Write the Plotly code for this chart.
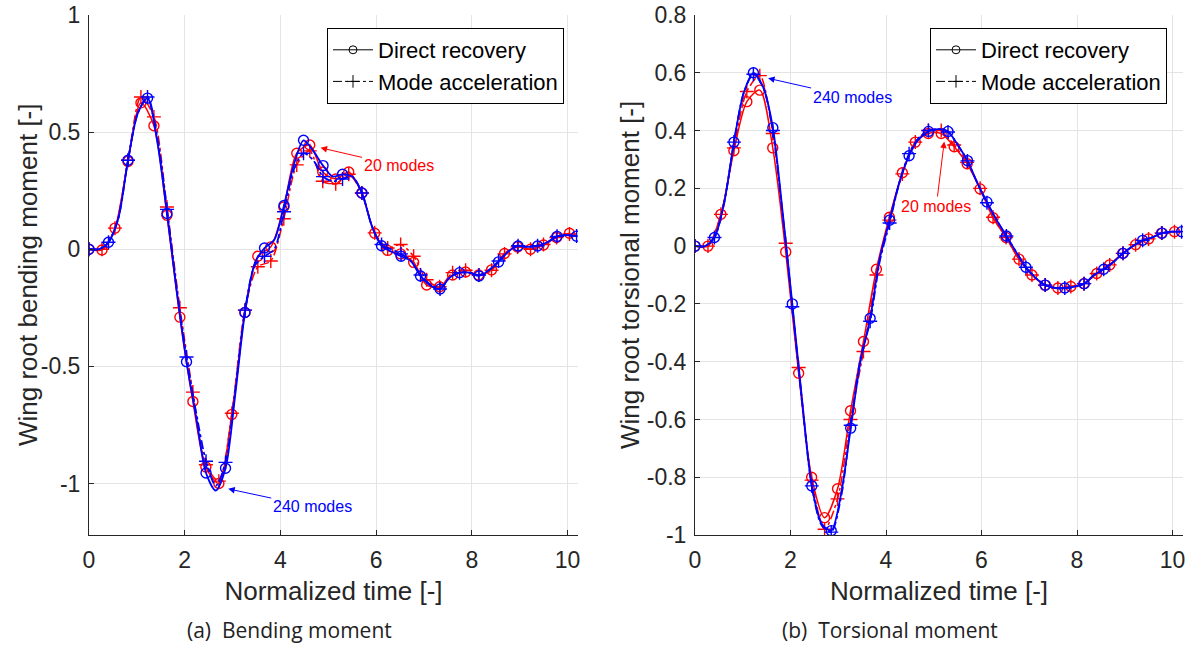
import numpy as np
import plotly.graph_objects as go

# ---------------- data ----------------
t_red = np.round(np.arange(38) * 0.2714, 4)   # 20-mode sampling
t_blue = np.round(np.arange(51) * 0.2038, 4)  # 240-mode sampling

bend_red_dr = [0.0, -0.003, 0.09, 0.375, 0.625, 0.527, 0.145, -0.29, -0.65, -0.93,
               -1.0, -0.705, -0.27, -0.03, 0.01, 0.18, 0.41, 0.445, 0.33, 0.30,
               0.33, 0.24, 0.068, -0.005, -0.02, -0.056, -0.153, -0.16, -0.11, -0.097,
               -0.11, -0.088, -0.018, 0.01, 0.0, 0.018, 0.05, 0.068]
bend_red_ma = [0.0, 0.0, 0.09, 0.38, 0.65, 0.565, 0.18, -0.25, -0.61, -0.92,
               -0.99, -0.70, -0.26, -0.075, -0.05, 0.13, 0.36, 0.42, 0.29, 0.28,
               0.32, 0.24, 0.07, 0.005, 0.02, -0.03, -0.13, -0.16, -0.10, -0.09,
               -0.11, -0.09, -0.02, 0.01, 0.0, 0.02, 0.05, 0.065]
bend_blue_dr = [0.0, 0.0, 0.03, 0.13, 0.38, 0.58, 0.645, 0.46, 0.153, -0.18,
                -0.48, -0.72, -0.955, -1.03, -0.935, -0.62, -0.27, -0.06, 0.005, 0.04,
                0.187, 0.36, 0.465, 0.42, 0.357, 0.31, 0.32, 0.31, 0.24, 0.10,
                0.015, -0.01, -0.03, -0.05, -0.114, -0.155, -0.17, -0.12, -0.10, -0.10,
                -0.114, -0.09, -0.054, -0.01, 0.014, 0.01, 0.014, 0.03, 0.055, 0.06, 0.056]
bend_blue_ma = [0.0, 0.0, 0.03, 0.13, 0.38, 0.58, 0.65, 0.48, 0.17, -0.17,
                -0.46, -0.70, -0.905, -1.01, -0.91, -0.60, -0.26, -0.07, -0.03, 0.0,
                0.16, 0.34, 0.41, 0.38, 0.31, 0.29, 0.30, 0.31, 0.24, 0.10,
                0.02, 0.0, -0.02, -0.05, -0.11, -0.15, -0.17, -0.12, -0.10, -0.10,
                -0.11, -0.09, -0.05, -0.01, 0.015, 0.01, 0.015, 0.03, 0.055, 0.06, 0.056]

tors_red_dr = [0.0, 0.0, 0.11, 0.33, 0.50, 0.54, 0.34, -0.02, -0.44, -0.80,
               -0.94, -0.84, -0.57, -0.33, -0.08, 0.10, 0.254, 0.36, 0.39, 0.39,
               0.344, 0.285, 0.198, 0.098, 0.03, -0.045, -0.10, -0.135, -0.145, -0.14,
               -0.13, -0.095, -0.065, -0.025, 0.005, 0.025, 0.045, 0.05]
tors_red_ma = [0.0, 0.0, 0.11, 0.34, 0.535, 0.59, 0.39, 0.01, -0.42, -0.81,
               -0.98, -0.875, -0.60, -0.365, -0.10, 0.09, 0.25, 0.36, 0.40, 0.40,
               0.35, 0.29, 0.20, 0.10, 0.03, -0.045, -0.10, -0.135, -0.145, -0.14,
               -0.13, -0.095, -0.065, -0.025, 0.005, 0.025, 0.045, 0.05]
tors_blue_dr = [0.0, 0.0, 0.03, 0.15, 0.36, 0.53, 0.60, 0.55, 0.41, 0.12,
                -0.20, -0.53, -0.83, -0.96, -0.985, -0.86, -0.63, -0.40, -0.25, -0.04,
                0.09, 0.22, 0.313, 0.37, 0.397, 0.405, 0.397, 0.35, 0.296, 0.22,
                0.153, 0.09, 0.035, -0.02, -0.073, -0.11, -0.135, -0.145, -0.145, -0.14,
                -0.13, -0.10, -0.08, -0.055, -0.025, 0.0, 0.02, 0.03, 0.045, 0.05, 0.05]
tors_blue_ma = [0.0, 0.0, 0.03, 0.15, 0.36, 0.53, 0.595, 0.55, 0.40, 0.11,
                -0.21, -0.54, -0.83, -0.965, -0.99, -0.87, -0.62, -0.39, -0.26, -0.05,
                0.08, 0.22, 0.32, 0.375, 0.40, 0.405, 0.395, 0.35, 0.295, 0.22,
                0.15, 0.09, 0.035, -0.02, -0.073, -0.11, -0.135, -0.145, -0.145, -0.14,
                -0.13, -0.10, -0.08, -0.055, -0.025, 0.0, 0.02, 0.03, 0.045, 0.05, 0.05]

x_ticks = [0, 2, 4, 6, 8, 10]
bend_ticks = [-1, -0.5, 0, 0.5, 1]
bend_ticktext = ["-1", "-0.5", "0", "0.5", "1"]
tors_ticks = [-1, -0.8, -0.6, -0.4, -0.2, 0, 0.2, 0.4, 0.6, 0.8]
tors_ticktext = ["-1", "-0.8", "-0.6", "-0.4", "-0.2", "0", "0.2", "0.4", "0.6", "0.8"]

RED = "#ff0000"
BLUE = "#0000ff"
AX = "#262626"
FONT = "Liberation Sans, Arial, sans-serif"

fig = go.Figure()


def add_series(t, y, color, width, dash, symbol, xa, ya, step):
    t = np.asarray(t)
    y = np.asarray(y)
    fig.add_trace(go.Scatter(x=t, y=y, mode="lines", xaxis=xa, yaxis=ya,
                             line=dict(color=color, width=width, dash=dash, shape="spline", smoothing=0.8),
                             showlegend=False, hoverinfo="skip"))
    fig.add_trace(go.Scatter(x=t[::step], y=y[::step], mode="markers", xaxis=xa, yaxis=ya,
                             marker=dict(symbol=symbol, size=10, color=color,
                                         line=dict(color=color, width=1.4)),
                             showlegend=False, hoverinfo="skip", cliponaxis=True))


for xa, ya, rdr, rma, bdr, bma in [("x", "y", bend_red_dr, bend_red_ma, bend_blue_dr, bend_blue_ma),
                                   ("x2", "y2", tors_red_dr, tors_red_ma, tors_blue_dr, tors_blue_ma)]:
    add_series(t_red, rdr, RED, 1.5, "solid", "circle-open", xa, ya, 1)
    add_series(t_red, rma, RED, 1.5, "dashdot", "cross-thin-open", xa, ya, 1)
    add_series(t_blue, bdr, BLUE, 1.8, "solid", "circle-open", xa, ya, 2)
    add_series(t_blue, bma, BLUE, 1.8, "dashdot", "cross-thin-open", xa, ya, 2)

# legend entries (black)
for lg, xa, ya in [("legend", "x", "y"), ("legend2", "x2", "y2")]:
    fig.add_trace(go.Scatter(x=[None], y=[None], mode="lines+markers", name="Direct recovery",
                             xaxis=xa, yaxis=ya, legend=lg,
                             line=dict(color="black", width=1),
                             marker=dict(symbol="circle-open", size=8, color="black",
                                         line=dict(color="black", width=1))))
    fig.add_trace(go.Scatter(x=[None], y=[None], mode="lines+markers", name="Mode acceleration",
                             xaxis=xa, yaxis=ya, legend=lg,
                             line=dict(color="black", width=1, dash="dashdot"),
                             marker=dict(symbol="cross-thin-open", size=9, color="black",
                                         line=dict(color="black", width=1))))

W, H = 1192, 648


def px(xp):
    return xp / W


def py(yp):
    return (H - yp) / H


ydom = [py(535), py(15)]

common_x = dict(range=[0, 10.22], tickvals=x_ticks, showgrid=True, gridcolor="#e4e4e4",
                gridwidth=1, showline=True, linecolor=AX, linewidth=1, ticks="inside",
                ticklen=5, tickcolor=AX, zeroline=False, mirror=False,
                tickfont=dict(family=FONT, size=23, color=AX), ticklabelstandoff=4,
                ticklabeloverflow="allow",
                title=dict(text="Normalized time [-]", font=dict(family=FONT, size=26, color=AX),
                           standoff=10), automargin=False)
common_y = dict(showgrid=True, gridcolor="#e4e4e4", gridwidth=1, showline=True,
                linecolor=AX, linewidth=1, ticks="inside", ticklen=5, tickcolor=AX,
                zeroline=False, mirror=False, tickfont=dict(family=FONT, size=23, color=AX),
                ticklabelstandoff=3, ticklabeloverflow="allow", automargin=False)

legend_common = dict(bgcolor="white", bordercolor="black", borderwidth=1,
                     font=dict(family=FONT, size=22, color="black"),
                     xanchor="left", yanchor="top", itemwidth=40, tracegroupgap=0,
                     itemclick=False)

fig.update_layout(
    width=W, height=H, margin=dict(l=0, r=0, t=0, b=0),
    paper_bgcolor="white", plot_bgcolor="white",
    xaxis=dict(domain=[px(89), px(578)], anchor="y", **common_x),
    yaxis=dict(domain=ydom, anchor="x", range=[-1.22, 1], tickvals=bend_ticks,
               ticktext=bend_ticktext, **common_y),
    xaxis2=dict(domain=[px(695), px(1183)], anchor="y2", **common_x),
    yaxis2=dict(domain=ydom, anchor="x2", range=[-1, 0.8], tickvals=tors_ticks,
                ticktext=tors_ticktext, **common_y),
    legend=dict(x=px(327), y=py(28), **legend_common),
    legend2=dict(x=px(930), y=py(28), **legend_common),
    showlegend=True,
)

title_font = dict(family=FONT, size=26, color=AX)
fig.add_annotation(x=px(28), y=py(275), xref="paper", yref="paper", textangle=-90,
                   text="Wing root bending moment [-]", showarrow=False, font=title_font,
                   xanchor="center", yanchor="middle")
fig.add_annotation(x=px(630), y=py(275), xref="paper", yref="paper", textangle=-90,
                   text="Wing root torsional moment [-]", showarrow=False, font=title_font,
                   xanchor="center", yanchor="middle")

ann_font = dict(family=FONT, size=16)
fig.add_annotation(x=4.84, y=0.433, xref="x", yref="y", text="20 modes", showarrow=True,
                   ax=78, ay=18, arrowhead=2, arrowsize=1.3, arrowwidth=1, arrowcolor=RED,
                   font=dict(color=RED, **ann_font), standoff=0)
fig.add_annotation(x=2.91, y=-1.023, xref="x", yref="y", text="240 modes", showarrow=True,
                   ax=84, ay=18, arrowhead=2, arrowsize=1.3, arrowwidth=1, arrowcolor=BLUE,
                   font=dict(color=BLUE, **ann_font), standoff=0)
fig.add_annotation(x=1.53, y=0.581, xref="x2", yref="y2", text="240 modes", showarrow=True,
                   ax=84, ay=19, arrowhead=2, arrowsize=1.3, arrowwidth=1, arrowcolor=BLUE,
                   font=dict(color=BLUE, **ann_font), standoff=0)
fig.add_annotation(x=5.22, y=0.362, xref="x2", yref="y2", text="20 modes", showarrow=True,
                   ax=-8, ay=65, arrowhead=2, arrowsize=1.3, arrowwidth=1, arrowcolor=RED,
                   font=dict(color=RED, **ann_font), standoff=0)

cap_font = dict(family="Open Sans, Noto Sans, sans-serif", size=21, color="#222222")
fig.add_annotation(x=px(289), y=py(630), xref="paper", yref="paper", xanchor="center",
                   yanchor="middle", text="(a)&nbsp;&nbsp;Bending moment", showarrow=False,
                   font=cap_font)
fig.add_annotation(x=px(890), y=py(630), xref="paper", yref="paper", xanchor="center",
                   yanchor="middle", text="(b)&nbsp;&nbsp;Torsional moment", showarrow=False,
                   font=cap_font)

fig.write_html("out.html", config={"displayModeBar": False},
               post_script="document.body.style.margin='0';document.body.style.overflow='hidden';")
